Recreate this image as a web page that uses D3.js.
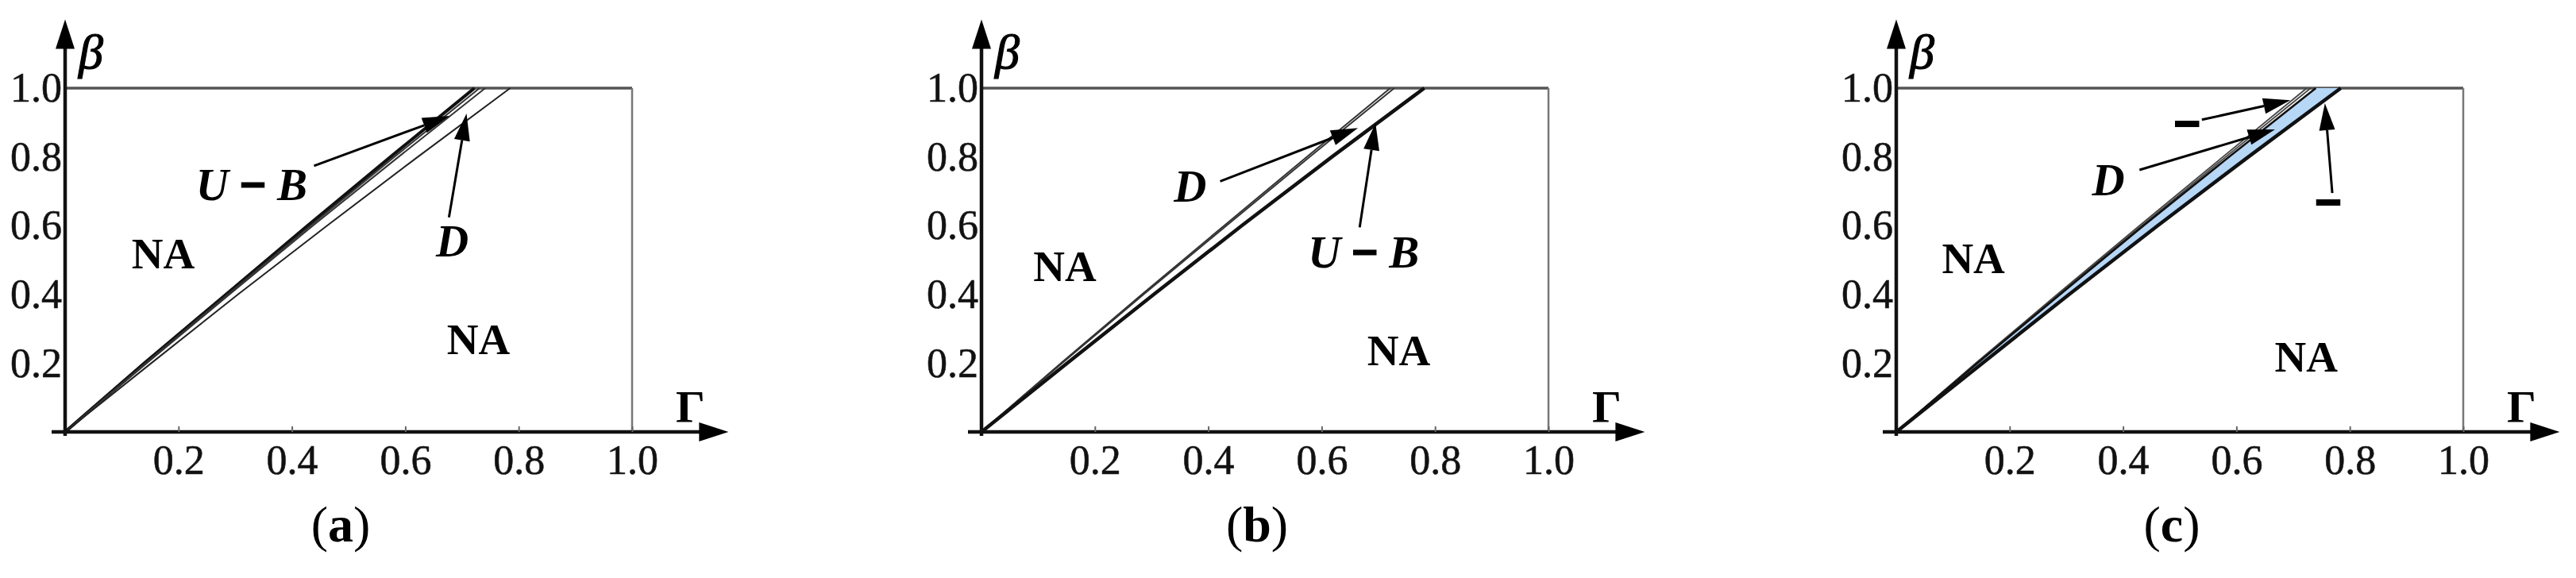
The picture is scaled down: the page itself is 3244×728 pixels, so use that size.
<!DOCTYPE html>
<html>
<head>
<meta charset="utf-8">
<script src="https://cdn.jsdelivr.net/npm/d3@7"></script>
<style>
  html, body { margin: 0; padding: 0; background: #fff; }
  svg { display: block; }
  text { font-family: "Liberation Serif", "Times New Roman", serif; }
</style>
</head>
<body>
<svg id="chart" width="3244" height="728"></svg>
<script>
// ---------------- data ----------------
const betaLevels = [0, 0.2, 0.4, 0.6, 0.8, 1.0];
const xTicks = [0.2, 0.4, 0.6, 0.8, 1.0];
const yTicks = [0.2, 0.4, 0.6, 0.8, 1.0];
const panelNames = ["a", "b", "c"];

// Gamma values of each boundary curve at the beta levels above
const aUB1 = [0, 0.140, 0.284, 0.428, 0.574, 0.722];
const aUB2 = [0, 0.142, 0.287, 0.433, 0.581, 0.731];
const aUB3 = [0, 0.144, 0.290, 0.437, 0.588, 0.741];
const aD   = [0, 0.152, 0.305, 0.462, 0.622, 0.785];

const bD1  = [0, 0.140, 0.283, 0.428, 0.574, 0.721];
const bD2  = [0, 0.142, 0.286, 0.432, 0.579, 0.728];
const bUB  = [0, 0.151, 0.304, 0.459, 0.618, 0.781];

const cT1  = [0, 0.140, 0.284, 0.429, 0.576, 0.724];
const cT2  = [0, 0.142, 0.286, 0.433, 0.581, 0.731];
const cB1  = [0, 0.143, 0.289, 0.436, 0.587, 0.740];
const cB2  = [0, 0.152, 0.305, 0.461, 0.621, 0.784];

// region labels [text, Gamma, beta]
const aLabels = [["NA", 0.173, 0.517], ["NA", 0.729, 0.268]];
const bLabels = [["NA", 0.147, 0.481], ["NA", 0.736, 0.236]];
const cLabels = [["NA", 0.136, 0.503], ["NA", 0.723, 0.217]];

// annotations: label, label position, arrow tail, arrow tip (Gamma, beta)
const aNotes = [
  {t: "UB", at: [0.329, 0.718], from: [0.439, 0.774], to: [0.678, 0.919]},
  {t: "D",  at: [0.683, 0.554], from: [0.677, 0.624], to: [0.708, 0.926]}
];
const bNotes = [
  {t: "D",  at: [0.368, 0.713], from: [0.421, 0.729], to: [0.664, 0.884]},
  {t: "UB", at: [0.674, 0.521], from: [0.667, 0.595], to: [0.695, 0.898]}
];
const cNotes = [
  {t: "-",  at: [0.513, 0.896], from: [0.539, 0.908], to: [0.695, 0.965]},
  {t: "D",  at: [0.374, 0.732], from: [0.429, 0.762], to: [0.668, 0.880]},
  {t: "-",  at: [0.762, 0.667], from: [0.769, 0.695], to: [0.756, 0.956]}
];

// ---------------- drawing ----------------
const svg = d3.select("#chart");
const origins = [82, 1236, 2388];
const PW = 714, Y0 = 544, Y1 = 111;
const toPts = g => g.map((v, i) => [v, betaLevels[i]]);

const panels = [
  {curves: [{g: aUB1, w: 4.2, c: "#111"}, {g: aUB2, w: 2, c: "#333"}, {g: aUB3, w: 2, c: "#333"}, {g: aD, w: 2, c: "#222"}],
   fill: null, labels: aLabels, notes: aNotes},
  {curves: [{g: bD1, w: 2, c: "#333"}, {g: bD2, w: 2, c: "#333"}, {g: bUB, w: 4.5, c: "#111"}],
   fill: null, labels: bLabels, notes: bNotes},
  {curves: [{g: cT1, w: 1.8, c: "#444"}, {g: cT2, w: 1.8, c: "#444"}, {g: cB1, w: 2.6, c: "#111"}, {g: cB2, w: 4.5, c: "#111"}],
   fill: [cB1, cB2], labels: cLabels, notes: cNotes}
];

function triangle(g, tip, tail, len, half, color) {
  const dx = tip[0] - tail[0], dy = tip[1] - tail[1];
  const L = Math.hypot(dx, dy), ux = dx / L, uy = dy / L;
  const bx = tip[0] - ux * len, by = tip[1] - uy * len;
  g.append("path")
    .attr("d", `M${tip[0]},${tip[1]}L${bx - uy * half},${by + ux * half}L${bx + uy * half},${by - ux * half}Z`)
    .attr("fill", color);
  return [bx, by];
}

panels.forEach((p, i) => {
  const ox = origins[i];
  const x = d3.scaleLinear().domain([0, 1]).range([ox, ox + PW]);
  const y = d3.scaleLinear().domain([0, 1]).range([Y0, Y1]);
  const g = svg.append("g");
  const line = d3.line().x(d => x(d[0])).y(d => y(d[1]));

  // frame (top and right)
  g.append("line").attr("x1", x(0)).attr("x2", x(1)).attr("y1", y(1)).attr("y2", y(1))
    .attr("stroke", "#555").attr("stroke-width", 3.5);
  g.append("line").attr("x1", x(1)).attr("x2", x(1)).attr("y1", y(0)).attr("y2", y(1))
    .attr("stroke", "#777").attr("stroke-width", 2.5);

  // filled region
  if (p.fill) {
    const poly = toPts(p.fill[0]).concat(toPts(p.fill[1]).reverse());
    g.append("path").attr("d", line(poly) + "Z").attr("fill", "#b7d7f7");
  }

  // curves
  p.curves.forEach(c => {
    g.append("path").attr("d", line(toPts(c.g))).attr("fill", "none")
      .attr("stroke", c.c).attr("stroke-width", c.w);
  });

  // axes lines with arrows
  const xEnd = 1.17, yEnd = 1.2;
  g.append("line").attr("x1", x(0) - 17).attr("x2", x(xEnd) - 20).attr("y1", y(0)).attr("y2", y(0))
    .attr("stroke", "#111").attr("stroke-width", 4.5);
  triangle(g, [x(xEnd), y(0)], [x(0), y(0)], 37, 12, "#000");
  g.append("line").attr("x1", x(0)).attr("x2", x(0)).attr("y1", y(0) + 5).attr("y2", y(yEnd) + 20)
    .attr("stroke", "#111").attr("stroke-width", 4.5);
  triangle(g, [x(0), y(yEnd)], [x(0), y(0)], 37, 12, "#000");

  // tick labels via d3 axes
  const ax = g.append("g").attr("transform", `translate(0,${y(0)})`)
    .call(d3.axisBottom(x).tickValues(xTicks).tickFormat(d3.format(".1f"))
      .tickSizeInner(-7).tickSizeOuter(0).tickPadding(16));
  const ay = g.append("g").attr("transform", `translate(${x(0)},0)`)
    .call(d3.axisLeft(y).tickValues(yTicks).tickFormat(d3.format(".1f"))
      .tickSizeInner(-7).tickSizeOuter(0).tickPadding(4));
  [ax, ay].forEach(a => {
    a.select(".domain").remove();
    a.selectAll(".tick line").attr("stroke", "#666").attr("stroke-width", 2);
    a.selectAll("text").attr("font-size", 52).attr("fill", "#111")
      .attr("stroke", "#222").attr("stroke-width", 0.6)
      .attr("font-family", "'Liberation Serif', 'Times New Roman', serif");
  });
  ay.selectAll(".tick line").remove();

  // axis titles
  g.append("text").attr("x", x(0) + 17).attr("y", 86).attr("font-size", 62)
    .attr("font-style", "italic").attr("fill", "#000").attr("stroke", "#000").attr("stroke-width", 1.2)
    .text("β");
  g.append("text").attr("x", x(1.077)).attr("y", 532).attr("font-size", 58)
    .attr("font-weight", "bold").attr("fill", "#000").text("Γ");

  // region labels
  p.labels.forEach(l => {
    g.append("text").attr("x", x(l[1])).attr("y", y(l[2])).attr("dy", "0.33em")
      .attr("text-anchor", "middle").attr("font-size", 55).attr("font-weight", "bold")
      .attr("fill", "#000").text(l[0]);
  });

  // annotations
  p.notes.forEach(n => {
    const tip = [x(n.to[0]), y(n.to[1])], tail = [x(n.from[0]), y(n.from[1])];
    const base = triangle(g, tip, tail, 34, 10, "#000");
    g.append("line").attr("x1", tail[0]).attr("y1", tail[1]).attr("x2", base[0]).attr("y2", base[1])
      .attr("stroke", "#000").attr("stroke-width", 3);
    const t = g.append("text").attr("x", x(n.at[0])).attr("y", y(n.at[1])).attr("dy", "0.33em")
      .attr("text-anchor", "middle").attr("font-size", 57).attr("font-weight", "bold")
      .attr("fill", "#000");
    if (n.t === "UB") {
      t.attr("font-style", "italic");
      t.append("tspan").text("U ");
      t.append("tspan").attr("font-style", "normal").attr("stroke", "#000").attr("stroke-width", 3).text("−");
      t.append("tspan").text(" B");
    } else if (n.t === "D") {
      t.attr("font-style", "italic").text("D");
    } else {
      t.attr("stroke", "#000").attr("stroke-width", 4).text("−");
    }
  });

  // panel caption
  const cap = svg.append("text").attr("x", (x(0) + x(1)) / 2 - 10).attr("y", 682)
    .attr("text-anchor", "middle").attr("font-size", 64).attr("fill", "#000");
  cap.append("tspan").text("(");
  cap.append("tspan").attr("font-weight", "bold").text(panelNames[i]);
  cap.append("tspan").text(")");
});
</script>
</body>
</html>
